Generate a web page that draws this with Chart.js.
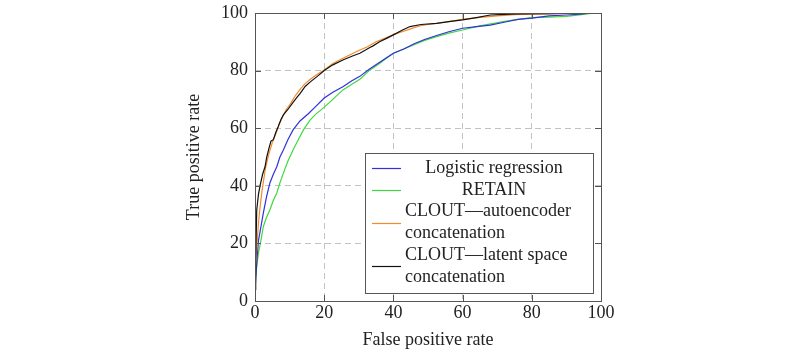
<!DOCTYPE html>
<html>
<head>
<meta charset="utf-8">
<script src="https://cdn.jsdelivr.net/npm/chart.js@4"></script>
<style>
  html, body { margin: 0; padding: 0; background: #fff; }
</style>
</head>
<body>
<canvas id="roc" width="800" height="357"></canvas>
<script>
// axis ticks
const tickValues = [0, 20, 40, 60, 80, 100];

// legend labels (arrays = wrapped over two lines)
const seriesNames = [
  'Logistic regression',
  'RETAIN',
  ['CLOUT\u2014autoencoder', 'concatenation'],
  ['CLOUT\u2014latent space', 'concatenation'],
];

// ROC points: [false positive rate, true positive rate]
const logisticPoints = [
  [0, 3], [0.3, 10], [1, 21], [1.6, 25], [2.4, 30.5], [3.3, 36], [4.3, 41], [5.3, 44],
  [6.3, 46.6], [7.2, 50], [8.2, 52.4], [9.5, 56], [11, 59.4], [13, 62.5], [15.4, 65],
  [17.5, 67.5], [20, 70.5], [22.5, 72.5], [25.4, 74.4], [28, 76.5], [30.3, 78], [33, 80.5],
  [35.5, 82.5], [38, 84.5], [40, 86], [43, 87.5], [46, 89.3], [49, 90.8], [52.5, 92.2],
  [56, 93.5], [60, 94.7], [64, 95.3], [68, 95.8], [72, 96.8], [76, 97.8], [80, 98.2],
  [85, 99], [90, 99.3], [94, 99.6], [97, 100], [100, 100],
];
const retainPoints = [
  [0, 6], [0.4, 11], [1, 16.6], [1.7, 21], [2.4, 25.8], [3.3, 29], [4.3, 31.6], [5.3, 35],
  [6.3, 37.5], [7.2, 41], [8.2, 44.4], [9.5, 48.5], [11, 52.4], [12.5, 56], [14, 59.4],
  [15.9, 62.8], [17.5, 64.8], [20.2, 67.5], [22.5, 70], [25.4, 73.3], [28, 75.3], [30.3, 77],
  [33, 80], [35.5, 82], [38, 84.3], [40, 86], [43, 87.5], [46, 89], [49, 90.5], [52.5, 91.8],
  [56, 93], [60, 94.1], [65, 95.5], [71.7, 97], [75, 97.6], [80, 98.4], [85, 98.6],
  [90, 98.8], [95, 99.5], [98, 100], [100, 100],
];
const autoencoderPoints = [
  [0, 8], [0.3, 15], [0.7, 22], [1, 27], [1.5, 33], [2, 38], [2.5, 42], [3, 46], [4, 51],
  [5, 55], [6, 58], [7, 61.5], [8, 64], [9, 66.5], [10, 68], [11.5, 71], [13, 73.5],
  [14.5, 75.5], [16, 77], [18, 78.7], [20, 80.2], [22.5, 82.5], [25, 84], [27.5, 85.5],
  [30, 87], [32.5, 88.3], [35, 90], [37.5, 91.2], [40, 92.5], [42.5, 93.5], [45, 94.5],
  [47.5, 95.5], [50, 96], [55, 96.8], [60, 97.8], [65, 98.5], [70, 99], [75, 99.4],
  [80, 99.6], [90, 99.8], [100, 100],
];
const latentPoints = [
  [0, 4], [0.2, 14], [0.5, 31.6], [1, 37], [1.45, 40], [2.2, 44], [2.9, 46.6], [3.4, 50],
  [3.9, 52.4], [4.6, 55.5], [5.3, 56], [6, 58.5], [6.7, 60.5], [7.5, 63], [8.2, 64.6],
  [9.5, 66.5], [11, 69], [12, 70.5], [13, 72], [14.5, 74.5], [15.9, 76], [18, 78],
  [20.2, 80.2], [22.5, 82], [25.4, 83.7], [28, 85], [30.3, 86], [33.2, 88], [34, 88.5],
  [36, 90], [38, 91.2], [40, 92.4], [42.5, 94], [44.8, 95.3], [48, 96], [52.5, 96.4],
  [56, 97], [60, 97.6], [64, 98.4], [68, 99.3], [72, 99.5], [76.6, 99.7], [85, 99.8],
  [95, 100], [100, 100],
];

const FONT = '"Liberation Serif", "Times New Roman", serif';
const TEXT = '#222';
const FRAME = '#555';
const LINE_W = 1.2;

const toXY = pts => pts.map(([x, y]) => ({x, y}));

// frame with inward ticks on all four sides, like pgfplots
const frameTicks = {
  id: 'frameTicks',
  afterDatasetsDraw(chart) {
    const {ctx, chartArea: a, scales} = chart;
    const len = 6;
    ctx.save();
    ctx.strokeStyle = FRAME;
    ctx.lineWidth = 1;
    ctx.beginPath();
    tickValues.forEach(v => {
      const px = Math.round(scales.x.getPixelForValue(v)) + 0.5;
      ctx.moveTo(px, a.bottom); ctx.lineTo(px, a.bottom - len);
      ctx.moveTo(px, a.top); ctx.lineTo(px, a.top + len);
      const py = Math.round(scales.y.getPixelForValue(v)) + 0.5;
      ctx.moveTo(a.left, py); ctx.lineTo(a.left + len, py);
      ctx.moveTo(a.right, py); ctx.lineTo(a.right - len, py);
    });
    ctx.stroke();
    ctx.strokeRect(Math.round(a.left) + 0.5, Math.round(a.top) + 0.5,
      Math.round(a.right - a.left), Math.round(a.bottom - a.top));
    ctx.restore();
  }
};

// legend box inside the plot, lower right
const rocLegend = {
  id: 'rocLegend',
  afterDatasetsDraw(chart) {
    const ctx = chart.ctx;
    const box = {left: 365, top: 153, right: 593, bottom: 293};
    const lineH = 21.8;
    const textLeft = 405, textMid = 494;
    ctx.save();
    ctx.fillStyle = '#fff';
    ctx.fillRect(box.left, box.top, box.right - box.left, box.bottom - box.top);
    ctx.strokeStyle = FRAME;
    ctx.lineWidth = 1;
    ctx.strokeRect(box.left + 0.5, box.top + 0.5, box.right - box.left, box.bottom - box.top);
    ctx.font = '18px ' + FONT;
    ctx.textBaseline = 'middle';
    let y = 168;
    chart.data.datasets.forEach(ds => {
      const lines = Array.isArray(ds.label) ? ds.label : [ds.label];
      const sampleY = Math.round(y + (lines.length - 1) * lineH / 2) + 0.5;
      ctx.strokeStyle = ds.borderColor;
      ctx.lineWidth = LINE_W;
      ctx.beginPath();
      ctx.moveTo(372, sampleY); ctx.lineTo(401, sampleY);
      ctx.stroke();
      ctx.fillStyle = TEXT;
      lines.forEach(t => {
        if (lines.length > 1) { ctx.textAlign = 'left'; ctx.fillText(t, textLeft, y); }
        else { ctx.textAlign = 'center'; ctx.fillText(t, textMid, y); }
        y += lineH;
      });
    });
    ctx.restore();
  }
};

const colors = ['#3030dd', '#3fd83f', '#f28a2a', '#111111'];
const drawOrder = [3, 4, 2, 1];

new Chart(document.getElementById('roc'), {
  type: 'line',
  data: {
    datasets: [logisticPoints, retainPoints, autoencoderPoints, latentPoints].map((pts, i) => ({
      label: seriesNames[i],
      data: toXY(pts),
      borderColor: colors[i],
      borderWidth: LINE_W,
      pointRadius: 0,
      tension: 0,
      fill: false,
      order: drawOrder[i],
    })),
  },
  options: {
    responsive: false,
    animation: false,
    layout: {padding: {left: 0, right: 199, top: 13, bottom: 0}},
    plugins: {legend: {display: false}, tooltip: {enabled: false}},
    scales: {
      x: {
        type: 'linear', min: 0, max: 100,
        afterBuildTicks: s => { s.ticks = tickValues.map(v => ({value: v})); },
        afterFit: s => { s.height = 56; s.paddingLeft = 0; s.paddingRight = 0; },
        grid: {color: '#c2c2c2', drawTicks: false},
        border: {display: false, dash: [6, 4]},
        ticks: {color: TEXT, font: {family: FONT, size: 18}, padding: 1, maxRotation: 0},
        title: {display: true, text: 'False positive rate', color: TEXT,
          font: {family: FONT, size: 18}, padding: {top: 0, bottom: 6}},
      },
      y: {
        type: 'linear', min: 0, max: 100,
        afterBuildTicks: s => { s.ticks = tickValues.map(v => ({value: v})); },
        afterFit: s => { s.width = 255; s.paddingTop = 0; s.paddingBottom = 0; },
        grid: {color: '#c2c2c2', drawTicks: false},
        border: {display: false, dash: [6, 4]},
        ticks: {color: TEXT, font: {family: FONT, size: 18}, padding: 7},
        title: {display: true, text: 'True positive rate', color: TEXT,
          font: {family: FONT, size: 18}, padding: {top: 183, bottom: 0}},
      },
    },
  },
  plugins: [frameTicks, rocLegend],
});
</script>
</body>
</html>
